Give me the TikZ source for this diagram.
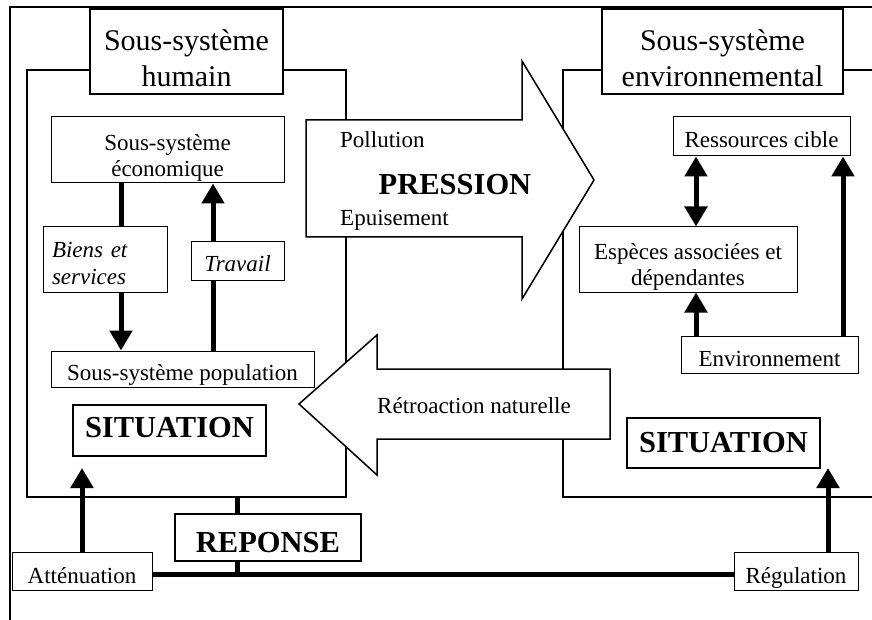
\documentclass[tikz,border=0pt]{standalone}
\usepackage{fontspec}
\setmainfont{Liberation Serif}
\usetikzlibrary{arrows.meta}
\tikzset{
  frame/.style={line width=2pt},
  titlebox/.style={draw, line width=2.6pt, fill=white, inner sep=0pt, align=center,
    font=\fontsize{30}{36}\selectfont},
  smallbox/.style={draw, line width=1pt, fill=white, inner sep=0pt, align=center,
    font=\fontsize{23}{26}\selectfont},
  boldbox/.style={draw, line width=1.2pt, fill=white, inner sep=0pt, align=center,
    font=\fontsize{30.5}{34}\selectfont\bfseries},
  bl/.style={text height=#1, text depth=0pt},
  bigarrow/.style={draw, line width=1.5pt, fill=white, line join=miter},
  thk/.style={line width=5pt},
  tip/.style={-{Triangle[width=22pt,length=20pt]}},
  dtip/.style={{Triangle[width=22pt,length=20pt]}-{Triangle[width=22pt,length=20pt]}},
  lbl/.style={inner sep=0pt, font=\fontsize{23}{26}\selectfont},
}
\begin{document}
\begin{tikzpicture}[x=1pt,y=-1pt]
\useasboundingbox (0,0) rectangle (872,620);
\fill[white] (0,0) rectangle (872,620);
% outer frame (top and left)
\draw[line width=2pt] (872,7) -- (10,7) -- (10,620);
% subsystem frames
\draw[frame] (27,70) rectangle (346,497);
\draw[frame] (872,70) -- (563,70) -- (563,497) -- (872,497);
% big arrows
\draw[bigarrow] (306,120) -- (522,120) -- (522,61) -- (594,180) -- (522,299) -- (522,237) -- (306,237) -- cycle;
\draw[bigarrow] (610,369) -- (377,369) -- (377,335) -- (299,404) -- (377,475) -- (377,439) -- (610,439) -- cycle;
\node[lbl, anchor=base west] (pol) at (340,148) {Pollution};
\node[inner sep=0pt, anchor=base, font=\fontsize{30.5}{34}\selectfont\bfseries] (pres) at (455,195) {PRESSION};
\node[lbl, anchor=base west] (epu) at (340,226) {Epuisement};
\node[lbl, anchor=base west] (retro) at (377,413) {Rétroaction naturelle};
% title boxes
\node[titlebox, minimum width=193pt, minimum height=85pt] (tH) at (186.5,51.5) {\rule{0pt}{35pt}Sous-système\\humain};
\node[titlebox, minimum width=241pt, minimum height=85pt] (tE) at (722.5,51.5) {\rule{0pt}{35pt}Sous-système\\environnemental};
% human subsystem content
\node[smallbox, minimum width=233pt, minimum height=66pt] (eco) at (167.5,150) {\rule{0pt}{33pt}Sous-système\\économique\rule[-5pt]{0pt}{5pt}};
\node[smallbox, align=left, text width=106pt, inner xsep=9pt, minimum height=65pt, font=\fontsize{23}{27}\selectfont\itshape] (biens) at (105,259.5) {\rule{0pt}{24pt}Biens et\\services};
\node[smallbox, bl=22pt, minimum width=93pt, minimum height=38pt, font=\fontsize{23}{26}\selectfont\itshape] (trav) at (237.5,261) {Travail};
\node[smallbox, bl=22pt, minimum width=263pt, minimum height=36pt] (pop) at (182.5,369) {Sous-système population};
\node[boldbox, bl=13pt, minimum width=193pt, minimum height=51pt] (sitL) at (169.5,430.5) {SITUATION};
% environmental subsystem content
\node[smallbox, bl=23pt, minimum width=177pt, minimum height=39pt] (res) at (761.5,136.5) {Ressources cible};
\node[smallbox, minimum width=218pt, minimum height=65pt] (esp) at (688,259.5) {\rule{0pt}{30pt}Espèces associées et\\dépendantes\rule[-5pt]{0pt}{5pt}};
\node[smallbox, bl=23pt, minimum width=177pt, minimum height=37pt] (envn) at (769.5,354.5) {Environnement};
\node[boldbox, bl=18pt, minimum width=193pt, minimum height=50pt] (sitR) at (723.5,443) {SITUATION};
% response
\node[boldbox, bl=29pt, minimum width=186pt, minimum height=47pt] (rep) at (268,537.5) {REPONSE};
\node[smallbox, bl=24pt, minimum width=140pt, minimum height=38pt] (att) at (82,571) {Atténuation};
\node[smallbox, bl=24pt, minimum width=124pt, minimum height=38pt] (reg) at (796,571) {Régulation};
\coordinate (attTip) at (82,468);
\coordinate (regTip) at (828,468);
\coordinate (repTop) at (237,497);
\coordinate (repBot) at (237,574);
% arrows in human subsystem
\draw[thk] (eco.south -| 121,0) -- (biens.north -| 121,0);
\draw[thk,tip] (biens.south -| 121,0) -- (pop.north -| 121,0);
\draw[thk] (pop.north -| 213,0) -- (trav.south -| 213,0);
\draw[thk,tip] (trav.north -| 213,0) -- (eco.south -| 213,0);
% arrows in environmental subsystem
\draw[thk,dtip] (res.south -| 696,0) -- (esp.north -| 696,0);
\draw[thk,tip] (envn.north -| 696,0) -- (esp.south -| 696,0);
\draw[thk,tip] (envn.north -| 843,0) -- (res.south -| 843,0);
% response connectors
\draw[thk] (repTop) -- (rep.north -| repTop);
\draw[thk] (rep.south -| repBot) -- (repBot);
\draw[thk] (att.east |- repBot) -- (reg.west |- repBot);
\draw[thk,tip] (att.north -| attTip) -- (attTip);
\draw[thk,tip] (reg.north -| regTip) -- (regTip);
\end{tikzpicture}
\end{document}
